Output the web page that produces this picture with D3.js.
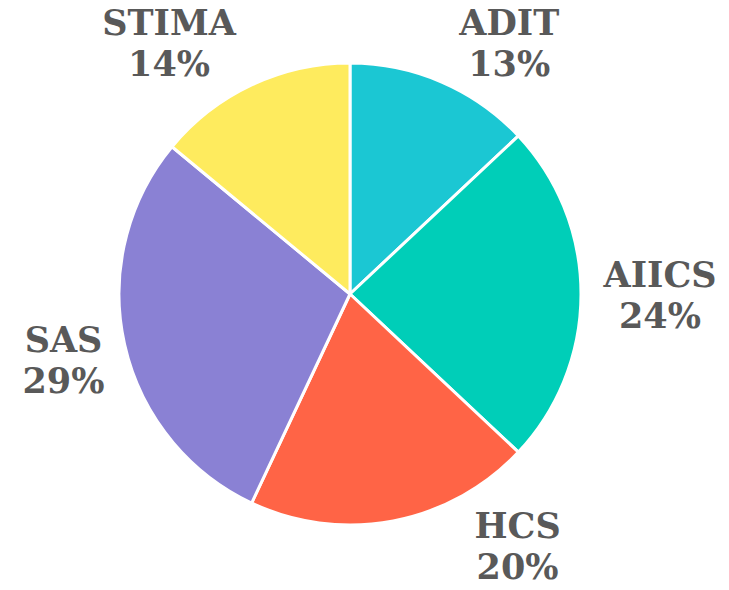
<!DOCTYPE html>
<html>
<head>
<meta charset="utf-8">
<script src="https://cdn.jsdelivr.net/npm/d3@7"></script>
<style>
  body { margin: 0; background: #fff; }
</style>
</head>
<body>
<div id="chart"></div>
<script>
// data
var labels = ["ADIT", "AIICS", "HCS", "SAS", "STIMA"];
var values = [13, 24, 20, 29, 14];
var colors = ["#1BC7D3", "#00CEB8", "#FF6446", "#8A81D4", "#FEEB5E"];

var width = 729, height = 590;
var cx = 350, cy = 294, radius = 231;

// manual nudges of the labels away from the arc centroid (like a hand-placed Excel layout)
var labelNudge = [[52, -3], [40, 1], [117, -13], [-23, 7], [-66, -7]];

var svg = d3.select("#chart")
  .append("svg")
    .attr("width", width)
    .attr("height", height)
  .append("g")
    .attr("transform", "translate(" + cx + "," + cy + ")");

var pie = d3.pie().sort(null).value(function(d) { return d; });
var arcs = pie(values);

var arc = d3.arc().innerRadius(0).outerRadius(radius);
var labelArc = d3.arc().innerRadius(270).outerRadius(270);

// slices
svg.selectAll("path")
  .data(arcs)
  .enter()
  .append("path")
    .attr("d", arc)
    .style("fill", function(d, i) { return colors[i]; })
    .style("stroke", "#fff")
    .style("stroke-width", 3)
    .style("stroke-linejoin", "round");

// labels
var lab = svg.selectAll(".lab")
  .data(arcs)
  .enter()
  .append("text")
    .attr("class", "lab")
    .attr("transform", function(d, i) {
      var c = labelArc.centroid(d);
      return "translate(" + (c[0] + labelNudge[i][0]) + "," + (c[1] + labelNudge[i][1]) + ")";
    })
    .attr("text-anchor", "middle")
    .style("font-family", "Georgia, 'DejaVu Serif', serif")
    .style("font-weight", "bold")
    .style("font-size", "35px")
    .style("fill", "#595959");

lab.append("tspan")
  .attr("x", 0)
  .attr("y", -8)
  .text(function(d, i) { return labels[i]; });

lab.append("tspan")
  .attr("x", 0)
  .attr("y", 33)
  .text(function(d) { return d.data + "%"; });
</script>
</body>
</html>
